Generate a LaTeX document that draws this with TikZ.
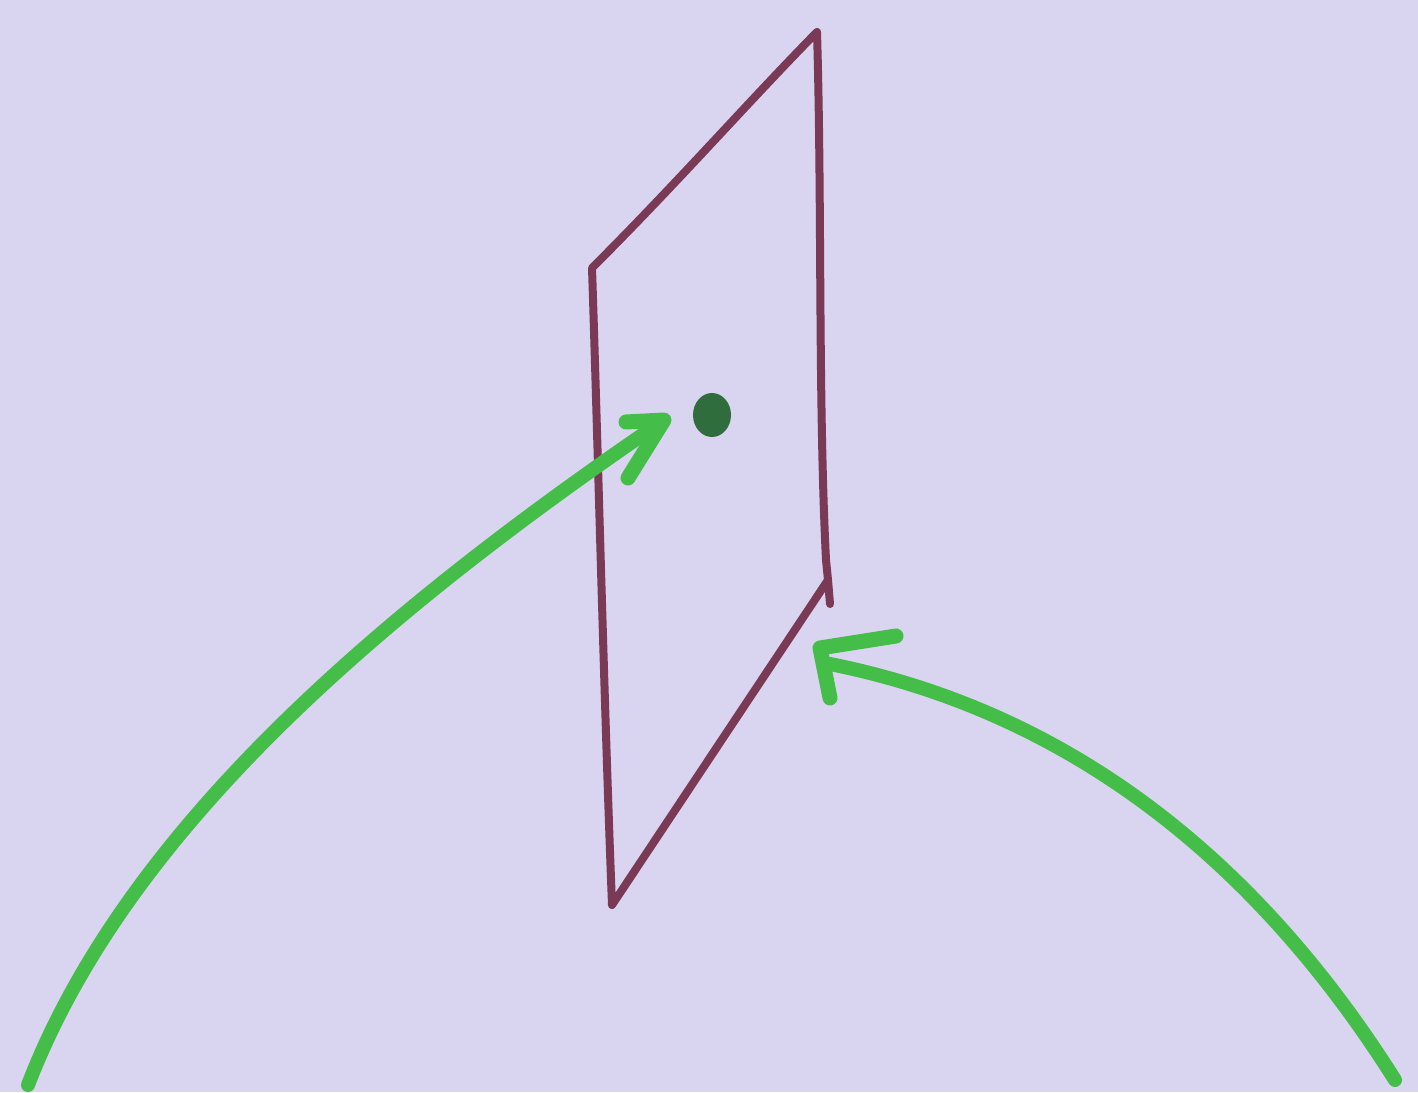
\documentclass[tikz,border=0pt]{standalone}
\definecolor{paper}{HTML}{D9D4F0}
\definecolor{frame}{HTML}{7A3A55}
\definecolor{arrowgreen}{HTML}{44BE48}
\definecolor{dotgreen}{HTML}{2F6E3C}
\tikzset{
  planeline/.style={draw=frame, line width=8pt, line cap=round, line join=round},
  greenarrow/.style={draw=arrowgreen, line width=14pt, line cap=round, line join=round},
  barb/.style={draw=arrowgreen, line width=15pt, line cap=round, line join=round}
}
\begin{document}
\begin{tikzpicture}[x=1pt,y=-1pt]
\fill[paper] (0,0) rectangle (1418,1092);
\useasboundingbox (0,0) rectangle (1418,1092);
% plane corners
\coordinate (top) at (817,32);
\coordinate (tl) at (592,268);
\coordinate (bl) at (612,905);
\coordinate (br) at (828,580);
\coordinate (brtail) at (830,604);
% plane outline
\draw[planeline] (br) -- (bl) .. controls (604,700) and (598,450) .. (tl)
  .. controls (680,180) and (750,100) .. (top)
  .. controls (822,200) and (818,400) .. (826,560) -- (br) -- (brtail);
% dot
\fill[dotgreen] (712,415) ellipse (19pt and 22pt);
% left arrow
\coordinate (lstart) at (28,1085);
\coordinate (ltip) at (664,420);
\draw[greenarrow] (lstart) .. controls (130,820) and (400,600) .. (ltip);
\draw[barb] (626,422) -- (ltip) -- (628,478);
% right arrow
\coordinate (rstart) at (1395,1080);
\coordinate (rtip) at (820,648);
\draw[greenarrow] (rstart) .. controls (1250,850) and (1060,710) .. (830,664);
\draw[barb] (896,636) -- (rtip) -- (830,698);
\end{tikzpicture}
\end{document}
